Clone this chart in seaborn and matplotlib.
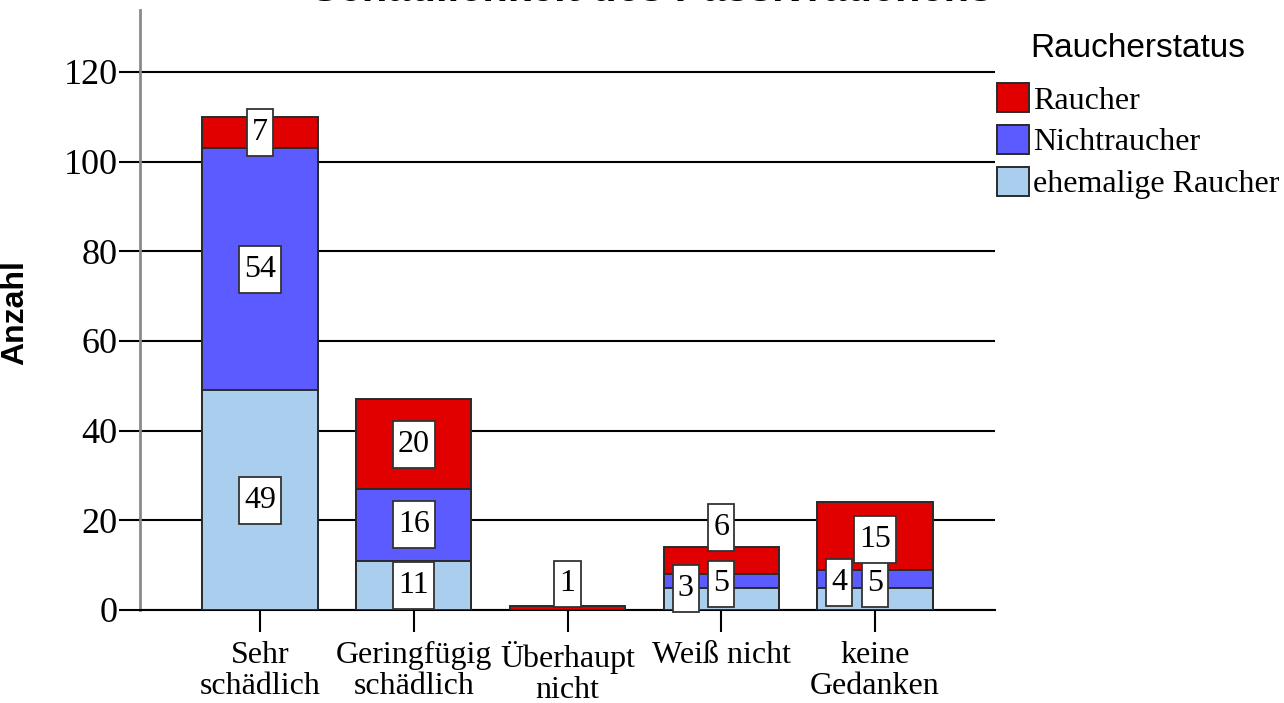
import numpy as np
import pandas as pd
import matplotlib
matplotlib.use("Agg")
import matplotlib.pyplot as plt
from matplotlib.patches import Patch
from matplotlib.path import Path
import seaborn as sns

# Antworten auf die Frage nach der Schädlichkeit des Passivrauchens
categories = ["Sehr\nschädlich", "Geringfügig\nschädlich", "Überhaupt\nnicht",
              "Weiß nicht", "keine\nGedanken"]
ehemalige = [49, 11, 0, 5, 5]
nichtraucher = [54, 16, 0, 3, 4]
raucher = [7, 20, 1, 6, 15]

series_names = ["Raucher", "Nichtraucher", "ehemalige Raucher"]
colors = {"Raucher": "#E00000", "Nichtraucher": "#5B5BFF", "ehemalige Raucher": "#AACFEE"}

sns.set_style("white")
plt.rcParams["font.family"] = ["Liberation Serif", "DejaVu Serif"]
plt.rcParams["text.color"] = "black"
plt.rcParams["axes.labelcolor"] = "black"
plt.rcParams["xtick.color"] = "black"
plt.rcParams["ytick.color"] = "black"

df = pd.DataFrame({"Kategorie": categories,
                   "ehemalige Raucher": ehemalige,
                   "Nichtraucher": nichtraucher,
                   "Raucher": raucher})
df["stufe1"] = df["ehemalige Raucher"]
df["stufe2"] = df["stufe1"] + df["Nichtraucher"]
df["stufe3"] = df["stufe2"] + df["Raucher"]

fig = plt.figure(figsize=(12.84, 7.03), dpi=100)
ax = fig.add_axes([140 / 1284, 1 - 610 / 703, 855 / 1284, 600 / 703])

edge = "#2a2a2a"
# stacked bars drawn as cumulative totals, back to front
for col, name in [("stufe3", "Raucher"), ("stufe2", "Nichtraucher"), ("stufe1", "ehemalige Raucher")]:
    sns.barplot(data=df, x="Kategorie", y=col, color=colors[name], saturation=1,
                width=0.75, edgecolor=edge, linewidth=1.4, ax=ax, zorder=3)

ax.set_xlim(-0.78, 4.78)
ax.set_ylim(0, 133.8)
ax.set_yticks(np.arange(0, 121, 20))
ax.yaxis.grid(True, color="black", linewidth=1.5, zorder=0)
ax.set_axisbelow(True)

for s in ["top", "right"]:
    ax.spines[s].set_visible(False)
ax.spines["left"].set_color("#8a8a8a")
ax.spines["left"].set_linewidth(2)
ax.spines["bottom"].set_color("black")
ax.spines["bottom"].set_linewidth(1.5)

ax.tick_params(axis="y", direction="out", length=15, width=1.5, color="black",
               pad=1, labelsize=26, left=True)
ax.tick_params(axis="x", direction="out", length=16, width=1.5, color="black",
               pad=6, labelsize=23, bottom=True)
for lbl in ax.get_xticklabels():
    lbl.set_linespacing(1.12)

ax.set_xlabel("")
ax.set_ylabel("Anzahl", family=["Liberation Sans", "DejaVu Sans"], fontweight="bold",
              fontsize=23)
ax.yaxis.set_label_coords(-110 / 855, 0.495)


def label_box(x0, y0, width, height, mutation_size):
    # narrow, tall frame around a value label
    px, py = 0.16 * mutation_size, 0.28 * mutation_size
    x0, y0 = x0 - px, y0 - py
    x1, y1 = x0 + width + 2 * px, y0 + height + 2 * py
    return Path([(x0, y0), (x1, y0), (x1, y1), (x0, y1), (x0, y0)], closed=True)


# value labels: centred in their segment unless the segment is too small
offsets = {(2, "Raucher"): (0.0, 5.8),
           (3, "Raucher"): (0.0, 18.3), (3, "Nichtraucher"): (-0.23, 4.7),
           (3, "ehemalige Raucher"): (0.0, 5.8),
           (4, "Raucher"): (0.0, 15.8), (4, "Nichtraucher"): (-0.235, 6.2),
           (4, "ehemalige Raucher"): (0.0, 5.8)}
box = dict(boxstyle=label_box, facecolor="white", edgecolor="#333333", linewidth=1.3)
for i in range(len(categories)):
    segs = [("ehemalige Raucher", 0, ehemalige[i]),
            ("Nichtraucher", ehemalige[i], nichtraucher[i]),
            ("Raucher", ehemalige[i] + nichtraucher[i], raucher[i])]
    for name, base, val in segs:
        if val == 0:
            continue
        dx, y = offsets.get((i, name), (0.0, base + val / 2))
        ax.text(i + dx, y, f"{val}", ha="center", va="center", fontsize=23,
                bbox=box, zorder=5)

handles = [Patch(facecolor=colors[n], edgecolor=edge, linewidth=1.4) for n in series_names]
leg = fig.legend(handles, series_names, loc="upper left",
                 bbox_to_anchor=(997 / 1284, 1 - 33 / 703), frameon=False,
                 title="Raucherstatus", fontsize=23, handlelength=1.0, handleheight=1.0,
                 handletextpad=0.12, labelspacing=0.3, borderpad=0, borderaxespad=0,
                 title_fontproperties={"family": "Liberation Sans", "size": 24})
leg._legend_box.sep = 14

# chart title sits at the very top edge of the canvas
fig.text(652 / 1284, 1 - 1 / 703, "Schädlichkeit des Passivrauchens",
         family=["Liberation Sans", "DejaVu Sans"], fontweight="bold", fontsize=30,
         ha="center", va="baseline")

fig.savefig("out.png", dpi=100)
